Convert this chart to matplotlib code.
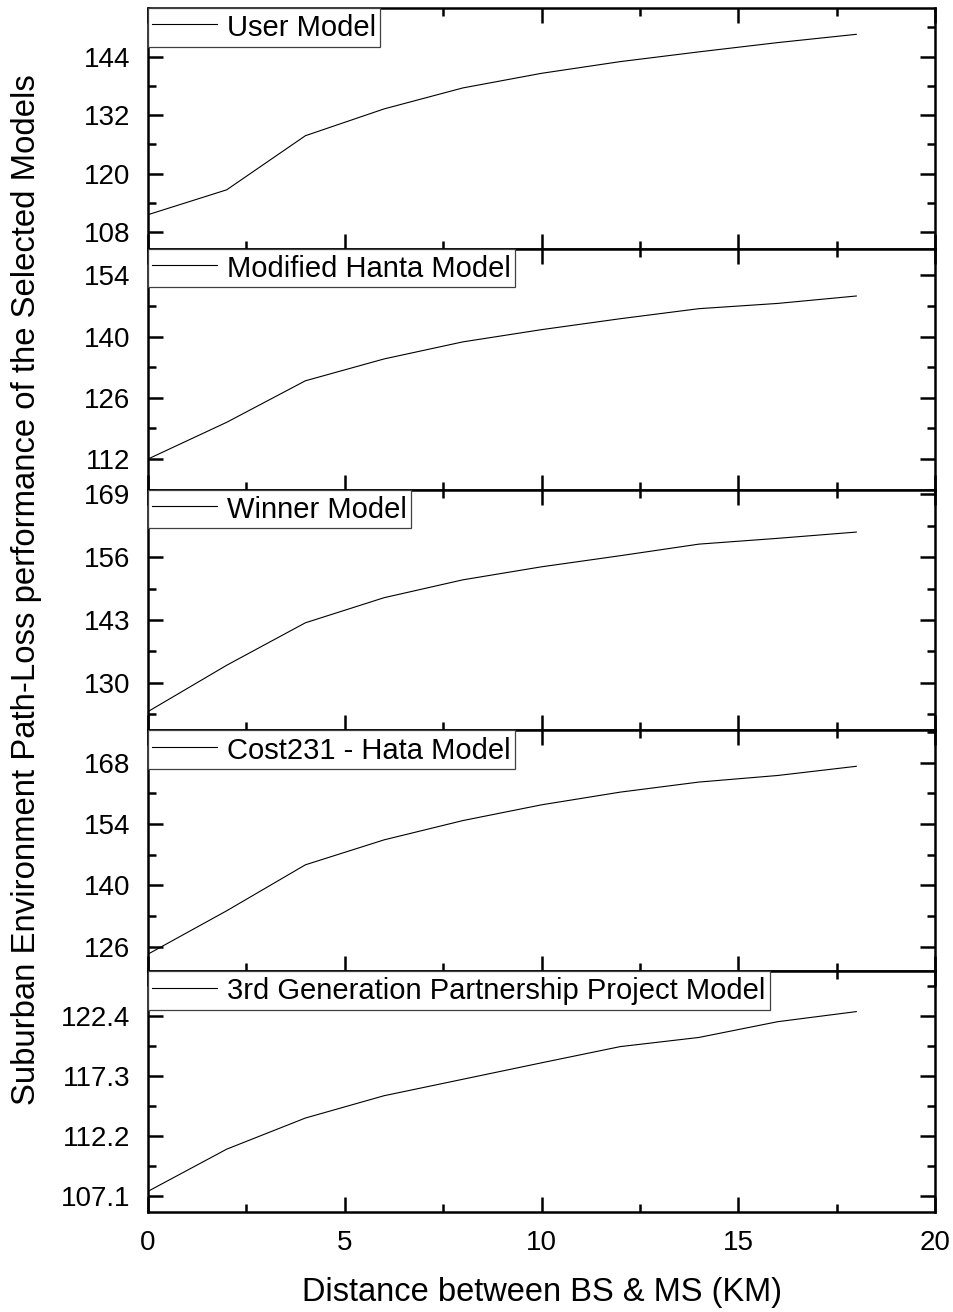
import matplotlib
matplotlib.use('Agg')
import matplotlib.pyplot as plt
from matplotlib.ticker import MultipleLocator, FixedLocator, FormatStrFormatter

plt.rcParams['font.family'] = ['Liberation Sans', 'DejaVu Sans']

# distance (km)
distance = [0, 2, 4, 6, 8, 10, 12, 14, 16, 18]

# path loss per model (dB)
user_model = [111.6, 116.7, 127.8, 133.3, 137.6, 140.6, 143.0, 145.0, 146.9, 148.6]
hanta_model = [112.0, 120.4, 129.9, 134.9, 138.8, 141.6, 144.1, 146.4, 147.6, 149.3]
winner_model = [124.0, 133.6, 142.4, 147.6, 151.3, 154.0, 156.3, 158.7, 159.9, 161.2]
cost231_model = [124.3, 134.2, 144.7, 150.4, 154.8, 158.4, 161.3, 163.6, 165.1, 167.2]
gpp_model = [107.46, 111.05, 113.7, 115.6, 117.0, 118.4, 119.78, 120.56, 121.9, 122.76]

labels = ['User Model', 'Modified Hanta Model', 'Winner Model',
          'Cost231 - Hata Model', '3rd Generation Partnership Project Model']

yticks = [[108, 120, 132, 144],
          [112, 126, 140, 154],
          [130, 143, 156, 169],
          [126, 140, 154, 168],
          [107.1, 112.2, 117.3, 122.4]]
ylims = [(104.6, 154.0), (105.0, 160.1), (120.1, 170.0), (120.4, 175.4), (105.7, 126.2)]
yfmt = ['%d', '%d', '%d', '%d', '%.1f']

series = [user_model, hanta_model, winner_model, cost231_model, gpp_model]

fig, axes = plt.subplots(5, 1, sharex=True, figsize=(9.54, 13.12), dpi=100)
fig.subplots_adjust(left=148/954, right=935/954, top=1 - 8/1312, bottom=1 - 1212/1312, hspace=0)

for i, ax in enumerate(axes):
    ax.plot(distance, series[i], color='black', lw=0.8, label=labels[i])
    ax.set_xlim(0, 20)
    ax.set_ylim(*ylims[i])
    ax.xaxis.set_major_locator(MultipleLocator(5))
    ax.xaxis.set_minor_locator(MultipleLocator(2.5))
    ax.yaxis.set_major_locator(FixedLocator(yticks[i]))
    step = yticks[i][1] - yticks[i][0]
    minors = [t + step / 2 for t in [yticks[i][0] - step] + yticks[i]]
    ax.yaxis.set_minor_locator(FixedLocator(minors))
    ax.yaxis.set_major_formatter(FormatStrFormatter(yfmt[i]))
    ax.tick_params(which='both', direction='in', top=True, right=True, width=1.8,
                   labelsize=20, pad=13)
    ax.tick_params(which='major', length=10.8)
    ax.tick_params(which='minor', length=5.5)
    for s in ax.spines.values():
        s.set_linewidth(1.8)
    leg = ax.legend(loc='upper left', fontsize=21, borderaxespad=0, fancybox=False,
                    framealpha=1, edgecolor='0.25', handlelength=2.2,
                    handleheight=1.1, handletextpad=0.35, borderpad=0.15)
    leg.get_frame().set_linewidth(0.9)

fig.text(542/954, 1 - 1293/1312, 'Distance between BS & MS (KM)', fontsize=23.5,
         ha='center', va='center')
fig.text(27/954, 1 - 590/1312,
         'Suburban Environment Path-Loss performance of the Selected Models',
         fontsize=23.7, rotation=90, ha='center', va='center')

fig.savefig('out.png', dpi=100)
